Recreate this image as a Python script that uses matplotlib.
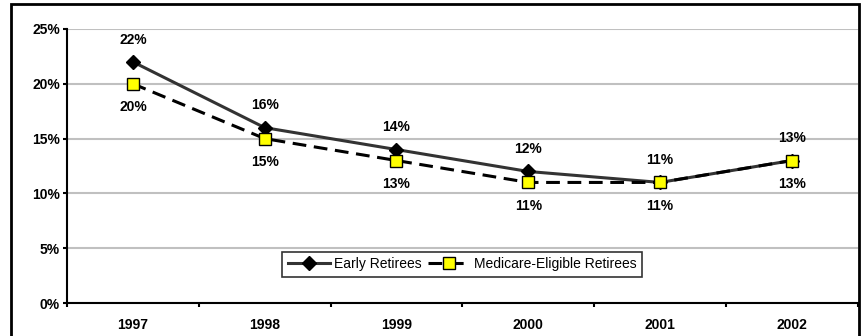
import matplotlib.pyplot as plt
from matplotlib.patches import Rectangle

plt.rcParams['font.family'] = ['Liberation Sans', 'DejaVu Sans']

years = ['1997', '1998', '1999', '2000', '2001', '2002']
early = [22, 16, 14, 12, 11, 13]
medicare = [20, 15, 13, 11, 11, 13]

fig = plt.figure(figsize=(8.67, 3.36), dpi=100)
ax = fig.add_axes([0.0773, 0.0982, 0.912, 0.8155])

x = range(len(years))
ax.plot(x, early, color='#333333', lw=2.2, marker='D', ms=7,
        mfc='black', mec='black', label='Early Retirees', zorder=3)
ax.plot(x, medicare, color='black', lw=2.2, ls=(0, (4.5, 2.5)), marker='s', ms=8,
        mfc='#ffff00', mec='black', mew=1, label='Medicare-Eligible Retirees', zorder=4)

for i in x:
    ax.annotate(f'{early[i]}%', (i, early[i]), xytext=(0, 11), textcoords='offset points',
                ha='center', va='bottom', fontsize=10, fontweight='bold')
    ax.annotate(f'{medicare[i]}%', (i, medicare[i]), xytext=(0, -12), textcoords='offset points',
                ha='center', va='top', fontsize=10, fontweight='bold')

ax.set_xlim(-0.5, len(years) - 0.5)
ax.set_ylim(0, 25)
ax.set_yticks(range(0, 26, 5))
ax.set_yticklabels([f'{v}%' for v in range(0, 26, 5)], fontsize=10, fontweight='bold')
ax.set_xticks([i + 0.5 for i in range(len(years) - 1)] + [-0.5, len(years) - 0.5])
ax.set_xticklabels([])
ax.set_xticks(list(x), minor=True)
ax.set_xticklabels(years, minor=True, fontsize=10, fontweight='bold')
ax.tick_params(axis='x', which='minor', length=0, pad=11)
ax.tick_params(axis='x', which='major', length=3, width=1.5, direction='out')
ax.tick_params(axis='y', length=3, width=1.5, direction='out', pad=2)

ax.yaxis.grid(True, color='#c0c0c0', lw=1.5)
ax.set_axisbelow(True)
for s in ['top', 'right']:
    ax.spines[s].set_visible(False)
ax.spines['left'].set_linewidth(1.5)
ax.spines['bottom'].set_linewidth(1.5)

leg = ax.legend(loc='lower center', bbox_to_anchor=(0.5, 0.07), ncol=2, fontsize=10,
                frameon=True, fancybox=False, edgecolor='black', handlelength=3.0,
                columnspacing=0.5, handletextpad=0.3, borderpad=0.4)
leg.get_frame().set_linewidth(1.2)

# outer chart border
fig.patches.append(Rectangle((11 / 867, -0.1), 848 / 867, 1.1 - 4 / 336, transform=fig.transFigure,
                             fill=False, edgecolor='black', lw=2))

fig.savefig('out.png', dpi=100)
